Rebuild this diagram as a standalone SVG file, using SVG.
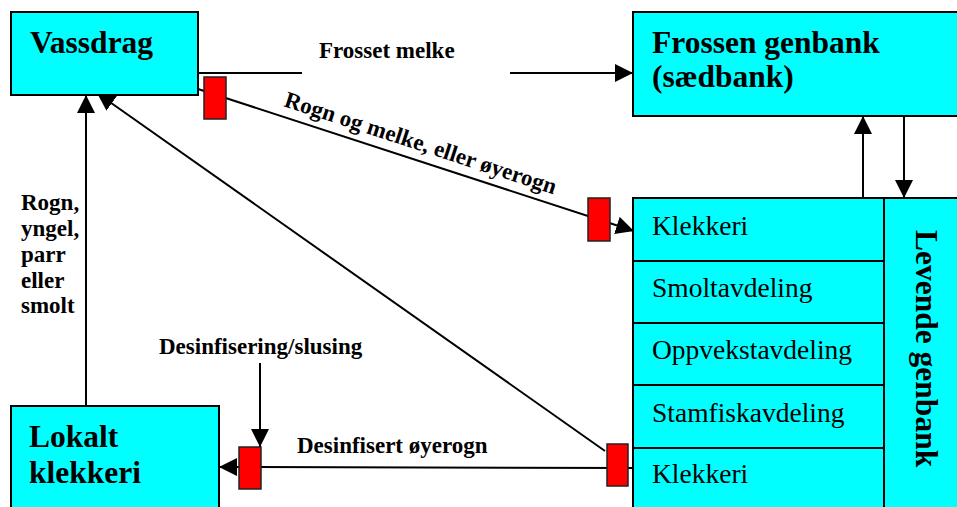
<svg xmlns="http://www.w3.org/2000/svg" width="957" height="507" viewBox="0 0 957 507">
  <defs>
    <marker id="arr" viewBox="0 0 18 18" refX="18" refY="9" markerWidth="18" markerHeight="18" markerUnits="userSpaceOnUse" orient="auto">
      <path d="M0,0 L18,9 L0,18 z" fill="#000"/>
    </marker>
    <style>
      .box { fill: #00FFFF; stroke: #000; stroke-width: 2; }
      .gate { fill: #FF0000; stroke: #222; stroke-width: 1.5; }
      .ln { stroke: #000; stroke-width: 2; fill: none; }
      .arr { marker-end: url(#arr); }
      .title { font-family: "Liberation Serif", "Times New Roman", serif; font-weight: bold; font-size: 31.5px; fill: #000; }
      .row { font-family: "Liberation Serif", "Times New Roman", serif; font-size: 27.5px; fill: #000; }
      .lbl { font-family: "Liberation Serif", "Times New Roman", serif; font-weight: bold; font-size: 23px; fill: #000; }
    </style>
  </defs>
  <rect width="957" height="507" fill="#fff"/>

  <g id="connectors">
    <line class="ln" x1="198" y1="73" x2="302" y2="73"/>
    <line class="ln arr" x1="510" y1="73" x2="633" y2="73"/>
    <line class="ln arr" x1="198" y1="89" x2="634" y2="231"/>
    <line class="ln arr" x1="605" y1="451" x2="97" y2="93"/>
    <line class="ln arr" x1="86" y1="406" x2="86" y2="95"/>
    <line class="ln arr" x1="634" y1="468" x2="219" y2="467"/>
    <line class="ln arr" x1="260" y1="363" x2="260" y2="447"/>
    <line class="ln arr" x1="863" y1="198" x2="863" y2="116"/>
    <line class="ln arr" x1="904" y1="116" x2="904" y2="198"/>
    <text class="lbl" x="319" y="58">Frosset melke</text>
    <text class="lbl" transform="translate(283,106) rotate(18.1)">Rogn og melke, eller øyerogn</text>
    <text class="lbl" x="21" y="210">Rogn,</text>
    <text class="lbl" x="21" y="236">yngel,</text>
    <text class="lbl" x="21" y="262">parr</text>
    <text class="lbl" x="21" y="288">eller</text>
    <text class="lbl" x="21" y="313">smolt</text>
    <text class="lbl" x="159" y="354">Desinfisering/slusing</text>
    <text class="lbl" x="297" y="453">Desinfisert øyerogn</text>
  </g>

  <g id="gates">
    <rect class="gate" x="204" y="77" width="22" height="42"/>
    <rect class="gate" x="588" y="198" width="22" height="43"/>
    <rect class="gate" x="239" y="447" width="22" height="42"/>
    <rect class="gate" x="607" y="444" width="21" height="42"/>
  </g>

  <g id="vassdrag">
    <rect class="box" x="11" y="12" width="187" height="83"/>
    <text class="title" x="30" y="53">Vassdrag</text>
  </g>

  <g id="frossen-genbank">
    <rect class="box" x="633" y="12" width="330" height="104"/>
    <text class="title" x="652" y="53">Frossen genbank</text>
    <text class="title" x="652" y="87">(sædbank)</text>
  </g>

  <g id="levende-genbank">
    <rect class="box" x="884" y="198" width="80" height="320"/>
    <text class="title" transform="translate(916,230) rotate(90)">Levende genbank</text>
  </g>

  <g id="klekkeri-1">
    <rect class="box" x="633" y="198" width="251" height="63"/>
    <text class="row" x="652" y="235">Klekkeri</text>
  </g>
  <g id="smoltavdeling">
    <rect class="box" x="633" y="261" width="251" height="62"/>
    <text class="row" x="652" y="297">Smoltavdeling</text>
  </g>
  <g id="oppvekstavdeling">
    <rect class="box" x="633" y="323" width="251" height="62"/>
    <text class="row" x="652" y="359">Oppvekstavdeling</text>
  </g>
  <g id="stamfiskavdeling">
    <rect class="box" x="633" y="385" width="251" height="63"/>
    <text class="row" x="652" y="422">Stamfiskavdeling</text>
  </g>
  <g id="klekkeri-2">
    <rect class="box" x="633" y="448" width="251" height="70"/>
    <text class="row" x="652" y="483">Klekkeri</text>
  </g>

  <g id="lokalt-klekkeri">
    <rect class="box" x="11" y="406" width="208" height="112"/>
    <text class="title" x="29" y="447">Lokalt</text>
    <text class="title" x="29" y="483">klekkeri</text>
  </g>
</svg>
